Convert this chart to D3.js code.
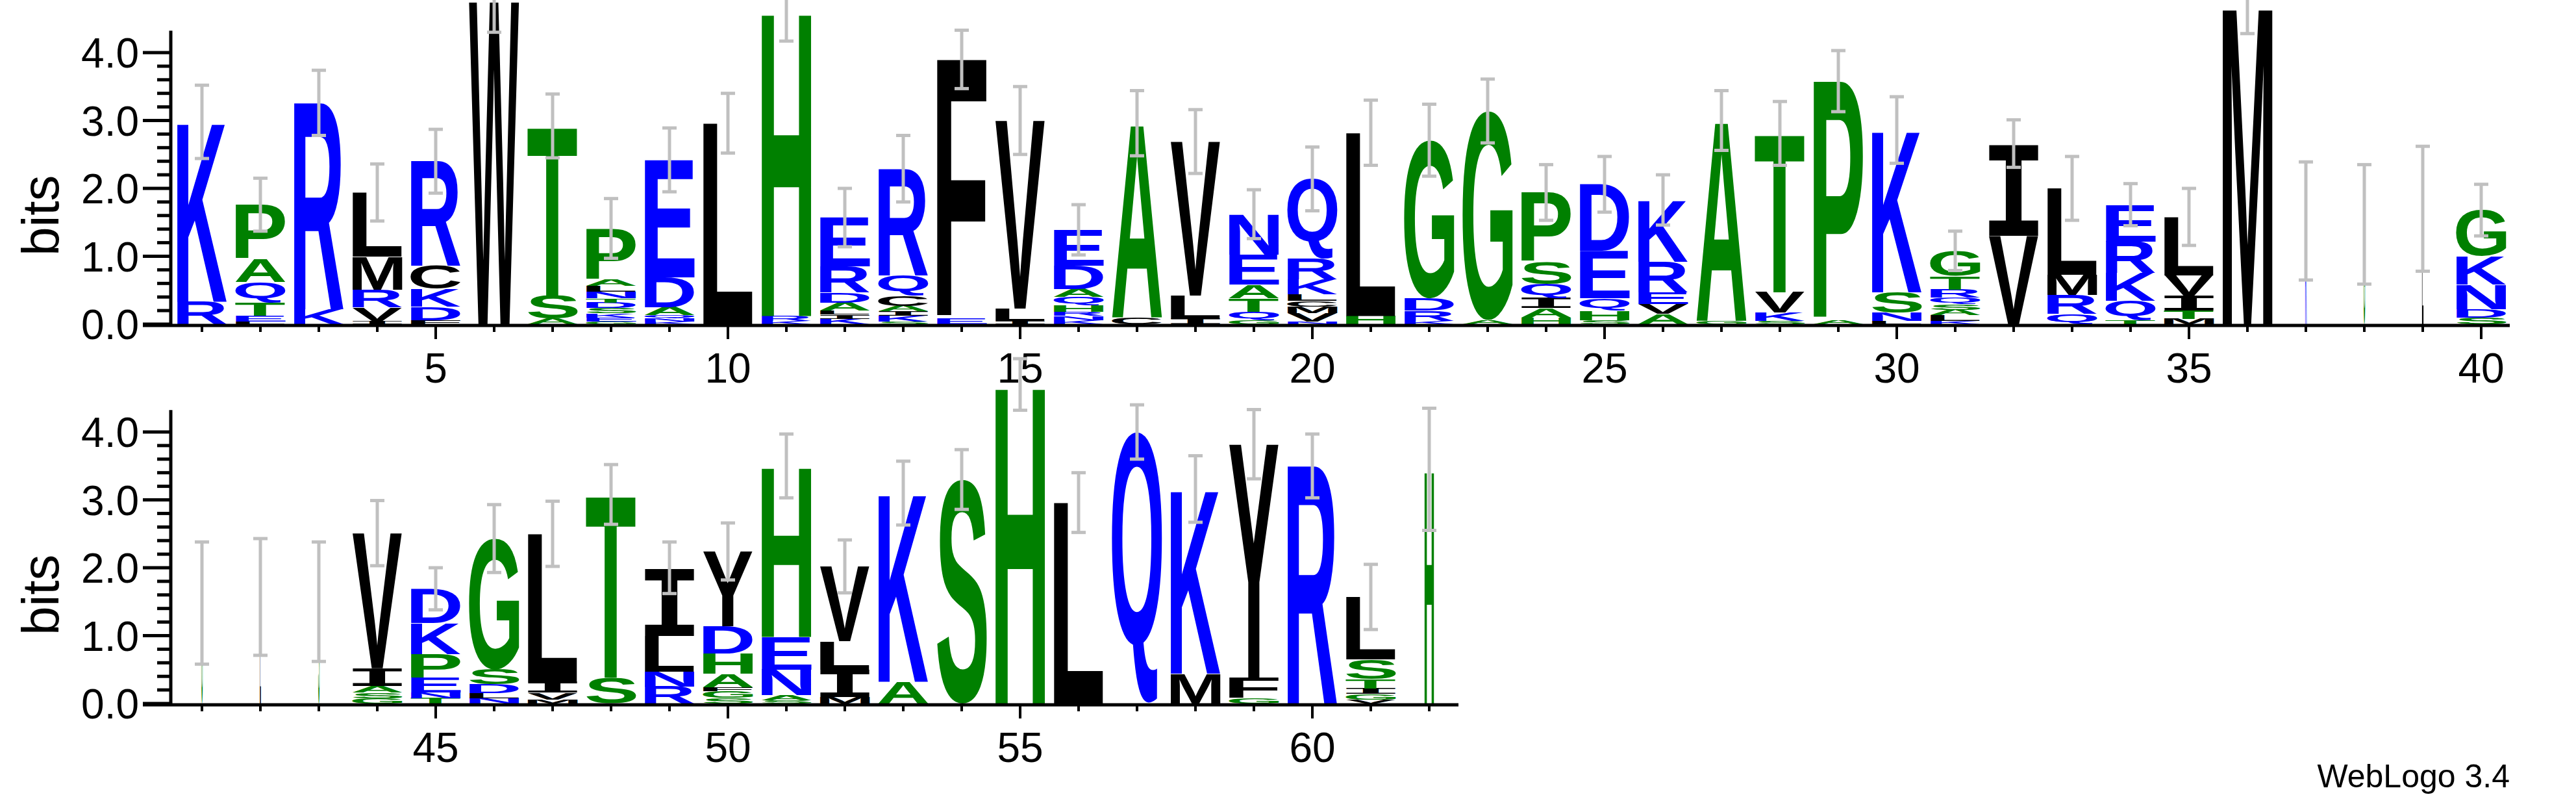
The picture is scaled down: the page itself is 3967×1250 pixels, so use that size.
<!DOCTYPE html>
<html>
<head>
<meta charset="utf-8">
<script src="https://cdn.jsdelivr.net/npm/d3@7"></script>
<style>
  body { margin: 0; background: #fff; }
  svg { display: block; }
</style>
</head>
<body>
<svg id="logo" width="3967" height="1250"></svg>
<script>
// sequence positions of each row
var rowOne = d3.range(1, 41);
var rowTwo = d3.range(41, 63);

// letter stacks, bottom to top: [residue, bits]
var stacks = {
  1: [['R', 0.33], ['K', 2.65]],
  2: [['L', 0.04], ['E', 0.08], ['T', 0.2], ['Q', 0.3], ['A', 0.34], ['P', 0.8]],
  3: [['K', 0.22], ['R', 3.04]],
  4: [['I', 0.05], ['V', 0.2], ['R', 0.26], ['M', 0.49], ['L', 0.94]],
  5: [['F', 0.06], ['D', 0.2], ['K', 0.26], ['C', 0.34], ['R', 1.54]],
  6: [['W', 4.75]],
  7: [['A', 0.08], ['S', 0.34], ['T', 2.5]],
  8: [['G', 0.04], ['E', 0.06], ['K', 0.06], ['S', 0.08], ['D', 0.08], ['T', 0.06], ['N', 0.1], ['L', 0.08], ['A', 0.1], ['P', 0.75]],
  9: [['K', 0.04], ['N', 0.05], ['Q', 0.04], ['A', 0.12], ['D', 0.44], ['E', 1.73]],
  10: [['L', 2.96]],
  11: [['K', 0.05], ['R', 0.07], ['H', 4.5]],
  12: [['K', 0.08], ['I', 0.06], ['L', 0.06], ['A', 0.12], ['D', 0.15], ['R', 0.38], ['E', 0.72]],
  13: [['S', 0.04], ['K', 0.08], ['I', 0.07], ['A', 0.08], ['C', 0.15], ['Q', 0.3], ['R', 1.57]],
  14: [['E', 0.08], ['F', 3.82]],
  15: [['I', 0.05], ['L', 0.18], ['V', 2.77]],
  16: [['K', 0.06], ['N', 0.06], ['R', 0.06], ['H', 0.1], ['Q', 0.12], ['A', 0.12], ['D', 0.34], ['E', 0.53]],
  17: [['C', 0.1], ['A', 2.86]],
  18: [['I', 0.08], ['L', 0.34], ['V', 2.27]],
  19: [['G', 0.06], ['Q', 0.12], ['T', 0.2], ['A', 0.2], ['E', 0.44], ['N', 0.6]],
  20: [['N', 0.04], ['V', 0.12], ['M', 0.1], ['C', 0.08], ['L', 0.1], ['K', 0.22], ['R', 0.3], ['Q', 1.18]],
  21: [['H', 0.12], ['L', 2.7]],
  22: [['K', 0.05], ['R', 0.15], ['D', 0.18], ['G', 2.33]],
  23: [['A', 0.06], ['G', 3.08]],
  24: [['H', 0.1], ['A', 0.14], ['I', 0.15], ['Q', 0.2], ['S', 0.33], ['P', 1.02]],
  25: [['S', 0.06], ['H', 0.14], ['Q', 0.18], ['E', 0.7], ['D', 0.98]],
  26: [['A', 0.15], ['V', 0.15], ['E', 0.17], ['R', 0.45], ['K', 0.91]],
  27: [['G', 0.05], ['A', 2.95]],
  28: [['S', 0.05], ['K', 0.12], ['V', 0.3], ['T', 2.34]],
  29: [['A', 0.06], ['P', 3.52]],
  30: [['L', 0.05], ['N', 0.12], ['S', 0.3], ['K', 2.39]],
  31: [['K', 0.05], ['L', 0.08], ['A', 0.08], ['S', 0.08], ['Q', 0.1], ['R', 0.12], ['T', 0.2], ['G', 0.37]],
  32: [['V', 1.3], ['I', 1.36]],
  33: [['Q', 0.15], ['R', 0.28], ['M', 0.3], ['L', 1.27]],
  34: [['T', 0.06], ['Q', 0.28], ['K', 0.42], ['R', 0.46], ['E', 0.54]],
  35: [['M', 0.08], ['T', 0.12], ['I', 0.22], ['V', 0.3], ['L', 0.86]],
  36: [['M', 4.7]],
  37: [['K', 1.52]],
  38: [['G', 1.47]],
  39: [['L', 1.7]],
  40: [['S', 0.1], ['D', 0.12], ['N', 0.36], ['K', 0.42], ['G', 0.68]],
  41: [['G', 1.48]],
  42: [['L', 1.57]],
  43: [['S', 1.5]],
  44: [['G', 0.08], ['S', 0.08], ['A', 0.1], ['I', 0.26], ['V', 1.99]],
  45: [['T', 0.08], ['N', 0.08], ['E', 0.22], ['P', 0.35], ['K', 0.46], ['D', 0.5]],
  46: [['N', 0.08], ['L', 0.07], ['D', 0.13], ['S', 0.22], ['G', 1.93]],
  47: [['M', 0.06], ['V', 0.1], ['I', 0.16], ['L', 2.18]],
  48: [['S', 0.38], ['T', 2.7]],
  49: [['R', 0.25], ['N', 0.22], ['L', 0.53], ['I', 1.0]],
  50: [['S', 0.08], ['G', 0.1], ['F', 0.06], ['A', 0.2], ['H', 0.3], ['D', 0.4], ['Y', 1.1]],
  51: [['S', 0.05], ['A', 0.07], ['N', 0.38], ['E', 0.48], ['H', 2.52]],
  52: [['M', 0.1], ['I', 0.4], ['L', 0.42], ['V', 1.1]],
  53: [['A', 0.32], ['K', 2.78]],
  54: [['S', 3.3]],
  55: [['H', 4.7]],
  56: [['L', 2.96]],
  57: [['Q', 4.0]],
  58: [['M', 0.44], ['K', 2.72]],
  59: [['G', 0.08], ['F', 0.3], ['Y', 3.44]],
  60: [['R', 3.5]],
  61: [['V', 0.06], ['G', 0.08], ['I', 0.08], ['T', 0.14], ['S', 0.29], ['L', 0.92]],
  62: [['H', 3.45]]
};

// error bar half-widths in bits
var errors = {
  1: 0.54, 2: 0.39, 3: 0.48, 4: 0.42, 5: 0.47, 6: 0.45, 7: 0.47, 8: 0.44, 9: 0.47, 10: 0.44,
  11: 0.45, 12: 0.43, 13: 0.49, 14: 0.43, 15: 0.5, 16: 0.37, 17: 0.48, 18: 0.47, 19: 0.36, 20: 0.47,
  21: 0.48, 22: 0.53, 23: 0.47, 24: 0.41, 25: 0.41, 26: 0.37, 27: 0.44, 28: 0.47, 29: 0.45, 30: 0.49,
  31: 0.29, 32: 0.35, 33: 0.47, 34: 0.31, 35: 0.42, 36: 0.42, 37: 0.87, 38: 0.88, 39: 0.92, 40: 0.38,
  41: 0.9, 42: 0.86, 43: 0.88, 44: 0.48, 45: 0.31, 46: 0.5, 47: 0.48, 48: 0.44, 49: 0.38, 50: 0.42,
  51: 0.47, 52: 0.39, 53: 0.47, 54: 0.44, 55: 0.38, 56: 0.44, 57: 0.4, 58: 0.49, 59: 0.51, 60: 0.47,
  61: 0.48, 62: 0.9
};

// fraction of non-gap sequences per column (sets stack width)
var occupancy = { 37: 0.03, 38: 0.03, 39: 0.03, 41: 0.025, 42: 0.02, 43: 0.025, 62: 0.19 };

var yTicks = [0, 1, 2, 3, 4];
var xLabelTicks = [5, 10, 15, 20, 25, 30, 35, 40, 45, 50, 55, 60];

var hydrophilic = 'RKDENQ', neutral = 'SGHTAP';
function colour(c) {
  if (hydrophilic.indexOf(c) >= 0) return '#0000ff';
  if (neutral.indexOf(c) >= 0) return '#008000';
  return '#000000';
}

// ink bounds of each glyph, measured with canvas
var FONT = 'bold 100px "Liberation Sans", Arial, sans-serif';
var FONT_I = 'bold 100px "Liberation Mono", monospace';  // the logo's I carries bars
function fontFor(c) { return c === 'I' ? FONT_I : FONT; }
var ctx = document.createElement('canvas').getContext('2d');
var glyphBox = {};
function measure(c) {
  if (!glyphBox[c]) {
    ctx.font = fontFor(c);
    var m = ctx.measureText(c);
    glyphBox[c] = {
      left: m.actualBoundingBoxLeft, right: m.actualBoundingBoxRight,
      asc: m.actualBoundingBoxAscent, desc: m.actualBoundingBoxDescent
    };
  }
  return glyphBox[c];
}

var svg = d3.select('#logo');
var step = 90, maxBits = Math.log2(20);
var panels = [
  { positions: rowOne, base: 499, x0: 263, x1: 3865 },
  { positions: rowTwo, base: 1083, x0: 263, x1: 2246 }
];

panels.forEach(function (p) {
  var first = p.positions[0];
  var x = d3.scaleLinear().domain([first, first + 1]).range([311, 311 + step]);
  var y = d3.scaleLinear().domain([0, maxBits]).range([p.base, p.base - maxBits * 104.5]);
  var g = svg.append('g');

  // letters
  p.positions.forEach(function (pos) {
    var w = step * 0.86 * (occupancy[pos] || 1);
    var cum = 0;
    (stacks[pos] || []).forEach(function (d) {
      var c = d[0], h = d[1];
      var b = measure(c);
      var yTop = y(cum + h), yBot = y(cum);
      var sx = w / (b.left + b.right), sy = (yBot - yTop) / (b.asc + b.desc);
      g.append('text')
        .attr('transform', 'translate(' + (x(pos) - w / 2) + ',' + yTop + ') scale(' + sx + ',' + sy + ') translate(' + b.left + ',' + b.asc + ')')
        .style('font', fontFor(c))
        .attr('fill', colour(c))
        .text(c);
      cum += h;
    });
    // error bar
    var e = errors[pos];
    var ge = g.append('g').attr('stroke', '#c0c0c0').attr('stroke-width', 5);
    ge.append('line').attr('x1', x(pos)).attr('x2', x(pos)).attr('y1', y(cum + e)).attr('y2', y(cum - e));
    [cum + e, cum - e].forEach(function (v) {
      ge.append('line').attr('x1', x(pos) - 11).attr('x2', x(pos) + 11).attr('y1', y(v)).attr('y2', y(v));
    });
  });

  // y axis
  var ya = g.append('g').attr('stroke', '#000');
  ya.append('line').attr('x1', p.x0).attr('x2', p.x0).attr('y1', y(0) + 2).attr('y2', y(maxBits)).attr('stroke-width', 5);
  d3.range(0, 4.01, 0.2).forEach(function (v) {
    var major = Math.abs(v - Math.round(v)) < 1e-6;
    ya.append('line').attr('x1', p.x0 - (major ? 43 : 21)).attr('x2', p.x0)
      .attr('y1', y(v)).attr('y2', y(v)).attr('stroke-width', 5);
  });
  g.selectAll('.ylab').data(yTicks).enter().append('text')
    .attr('x', 214).attr('y', function (d) { return y(d) + 23; })
    .attr('text-anchor', 'end')
    .style('font', '64px "Liberation Sans", Arial, sans-serif')
    .text(function (d) { return d.toFixed(1); });
  g.append('text')
    .attr('transform', 'translate(90,' + y(1.6) + ') rotate(-90)')
    .attr('text-anchor', 'middle')
    .style('font', '80px "Liberation Sans", Arial, sans-serif')
    .text('bits');

  // x axis
  var xa = g.append('g').attr('stroke', '#000');
  xa.append('line').attr('x1', p.x0 - 43).attr('x2', p.x1).attr('y1', p.base + 2).attr('y2', p.base + 2).attr('stroke-width', 5);
  p.positions.forEach(function (pos) {
    var major = pos % 5 === 0;
    xa.append('line').attr('x1', x(pos)).attr('x2', x(pos))
      .attr('y1', p.base).attr('y2', p.base + (major ? 23 : 12)).attr('stroke-width', 4);
  });
  g.selectAll('.xlab').data(xLabelTicks.filter(function (t) { return p.positions.indexOf(t) >= 0; }))
    .enter().append('text')
    .attr('x', function (d) { return x(d); }).attr('y', p.base + 90)
    .attr('text-anchor', 'middle')
    .style('font', '64px "Liberation Sans", Arial, sans-serif')
    .text(function (d) { return d; });
});

svg.append('text')
  .attr('x', 3865).attr('y', 1212)
  .attr('text-anchor', 'end')
  .style('font', '50px "Liberation Sans", Arial, sans-serif')
  .text('WebLogo 3.4');
</script>
</body>
</html>
